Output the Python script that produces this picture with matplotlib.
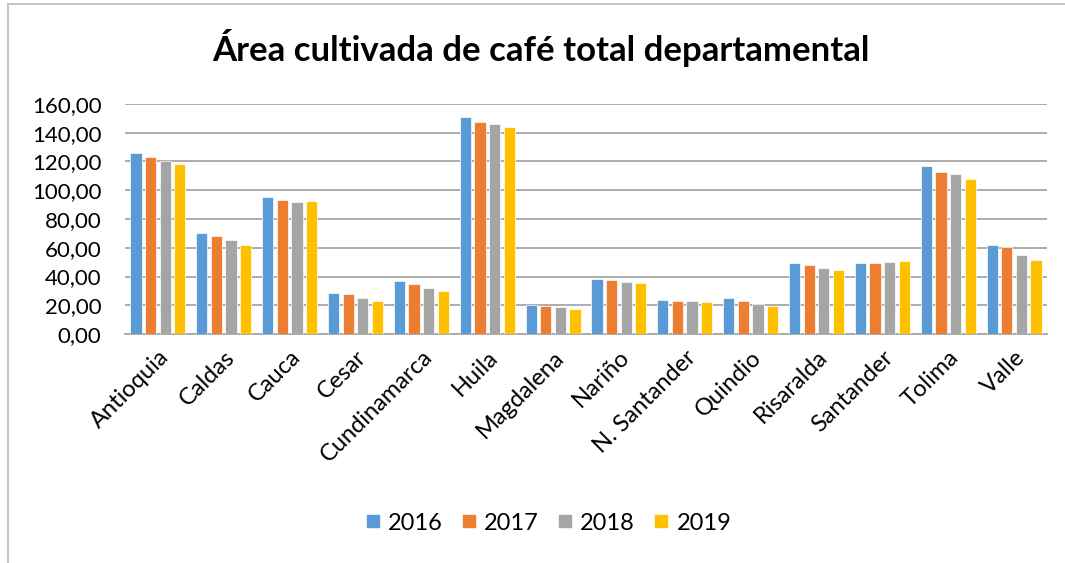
import matplotlib
matplotlib.use("Agg")
import matplotlib.pyplot as plt
import numpy as np
from matplotlib.lines import Line2D

categories = ["Antioquia", "Caldas", "Cauca", "Cesar", "Cundinamarca", "Huila",
              "Magdalena", "Nariño", "N. Santander", "Quindio", "Risaralda",
              "Santander", "Tolima", "Valle"]
years = ["2016", "2017", "2018", "2019"]
v2016 = [125.8, 70.1, 95.3, 28.4, 37.0, 151.2, 19.9, 38.2, 23.6, 25.0, 49.7, 49.7, 116.8, 62.2]
v2017 = [122.8, 68.2, 92.9, 27.5, 34.9, 147.3, 19.4, 37.5, 23.1, 23.1, 47.9, 49.5, 112.4, 60.6]
v2018 = [120.2, 65.4, 92.0, 25.4, 31.9, 146.1, 19.0, 36.5, 23.1, 20.8, 45.8, 50.2, 111.2, 54.8]
v2019 = [118.6, 62.2, 92.3, 23.1, 29.8, 144.3, 17.3, 35.4, 22.4, 19.6, 44.6, 50.9, 107.5, 51.8]
yticks = [0, 20, 40, 60, 80, 100, 120, 140, 160]
ytick_labels = ["0,00", "20,00", "40,00", "60,00", "80,00", "100,00", "120,00", "140,00", "160,00"]

colors = ["#5B9BD5", "#ED7D31", "#A5A5A5", "#FFC000"]
series = [v2016, v2017, v2018, v2019]

plt.rcParams['font.family'] = ['Lato', 'DejaVu Sans']

fig = plt.figure(figsize=(10.65, 5.63), dpi=100)
ax = fig.add_axes([125/1065, 0.4067, 922/1065, 0.4086])

x = np.arange(len(categories))
step = 0.222
width = 0.17
for i, (vals, c) in enumerate(zip(series, colors)):
    ax.bar(x + (i - 1.5) * step, vals, width=width, color=c, label=years[i],
           edgecolor="white", linewidth=0.5, zorder=3)

ax.set_xlim(-0.5, len(categories) - 0.5)
ax.set_ylim(0, 160)
ax.set_yticks(yticks)
ax.set_yticklabels(ytick_labels, fontsize=16)
ax.set_xticks(x)
ax.set_xticklabels(categories, rotation=45, ha="right", rotation_mode="anchor", fontsize=17)
ax.tick_params(axis="both", length=0)
ax.tick_params(axis="y", pad=17)
ax.tick_params(axis="x", pad=9)
ax.grid(axis="y", color="#A6A6A6", linewidth=1.3, zorder=0)
for s in ["left", "right", "top"]:
    ax.spines[s].set_visible(False)
ax.spines["bottom"].set_color("#A6A6A6")
ax.spines["bottom"].set_linewidth(1.3)

fig.text(0.508, 0.915, "Área cultivada de café total departamental", ha="center", va="center",
         fontsize=25, fontweight="bold")

handles = [Line2D([0], [0], marker="s", linestyle="none", markersize=9,
                  markerfacecolor=c, markeredgecolor=c) for c in colors]
fig.legend(handles, years, loc="center", bbox_to_anchor=(0.515, 0.071), ncol=4,
           frameon=False, fontsize=17, handlelength=0.6, handletextpad=0.35,
           columnspacing=0.8)

# chart border
fig.add_artist(Line2D([8/1065, 1.0], [1 - 4/563, 1 - 4/563], transform=fig.transFigure,
                      color="#BFBFBF", linewidth=1.3))
fig.add_artist(Line2D([8/1065, 8/1065], [0, 1 - 4/563], transform=fig.transFigure,
                      color="#BFBFBF", linewidth=1.3))

fig.savefig("out.png", dpi=100, facecolor="white")
